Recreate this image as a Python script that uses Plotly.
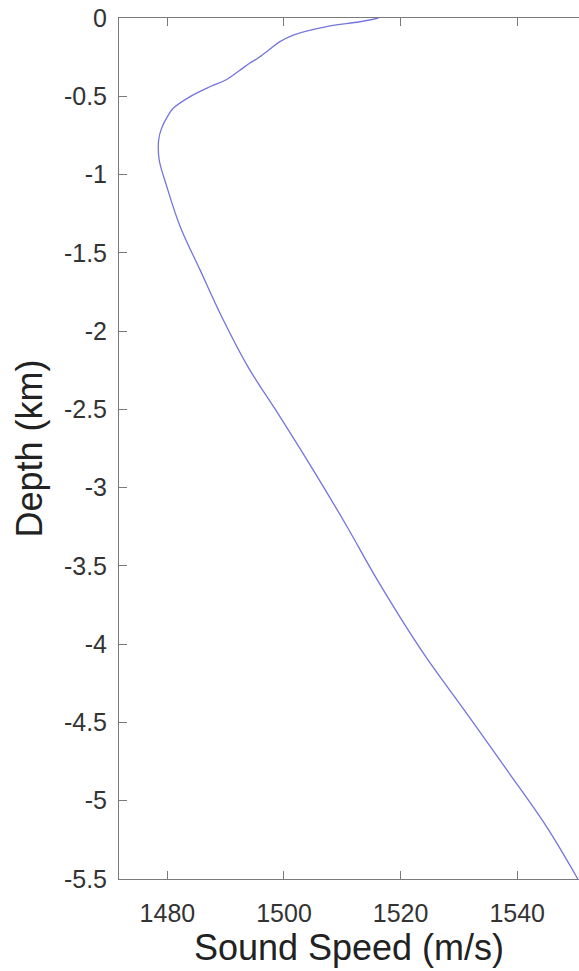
import plotly.graph_objects as go

depth_km = [0.000, -0.024, -0.055, -0.109, -0.151, -0.204, -0.257, -0.289, -0.340,
            -0.396, -0.439, -0.502, -0.577, -0.630, -0.705, -0.779, -0.907, -1.077,
            -1.333, -1.609, -1.907, -2.227, -2.546, -2.886, -3.248, -3.589, -4.057,
            -4.440, -4.802, -5.164, -5.500]
speed_ms = [1516.2, 1513.0, 1507.3, 1501.6, 1499.3, 1497.4, 1495.5, 1494.1, 1492.2,
            1490.0, 1487.3, 1483.9, 1481.0, 1480.0, 1479.0, 1478.5, 1478.6, 1479.9,
            1482.2, 1485.6, 1489.3, 1493.8, 1499.3, 1505.0, 1510.8, 1516.0, 1523.9,
            1531.3, 1538.2, 1545.0, 1550.4]

x_ticks = [1480, 1500, 1520, 1540]
x_ticktext = ["1480", "1500", "1520", "1540"]
y_ticks = [0, -0.5, -1, -1.5, -2, -2.5, -3, -3.5, -4, -4.5, -5, -5.5]
y_ticktext = ["0", "-0.5", "-1", "-1.5", "-2", "-2.5", "-3", "-3.5", "-4", "-4.5", "-5", "-5.5"]

FONT = "Liberation Sans, Arial, Helvetica, sans-serif"
TXT = "#333333"
AX = "#7a7a7a"

fig = go.Figure()
fig.add_trace(go.Scatter(
    x=speed_ms, y=depth_km, mode="lines",
    line=dict(color="#7474dc", width=1.3, shape="spline", smoothing=1.0),
    showlegend=False, hoverinfo="skip",
))

fig.update_layout(
    width=579, height=971,
    margin=dict(l=119, r=0, t=18, b=92),
    paper_bgcolor="white", plot_bgcolor="white",
    font=dict(family=FONT, color=TXT),
    xaxis=dict(
        range=[1471.7, 1550.6], tickvals=x_ticks, ticktext=x_ticktext,
        showgrid=False, zeroline=False,
        showline=True, linecolor=AX, linewidth=1, mirror="ticks",
        ticks="inside", ticklen=8, tickcolor=AX, tickwidth=1,
        tickfont=dict(size=25, color=TXT), ticklabelstandoff=12,
        title=dict(text="Sound Speed (m/s)", font=dict(size=36, color="#222222"), standoff=6),
    ),
    yaxis=dict(
        range=[-5.5, 0], tickvals=y_ticks, ticktext=y_ticktext,
        showgrid=False, zeroline=False,
        showline=True, linecolor=AX, linewidth=1, mirror=False,
        ticks="inside", ticklen=8, tickcolor=AX, tickwidth=1,
        tickfont=dict(size=25, color=TXT), ticklabelstandoff=6,
        title=dict(text="Depth (km)", font=dict(size=36, color="#222222"), standoff=10),
    ),
)

# remove the page's default body margin so the figure fills the window exactly
fig.write_html(
    "out.html",
    config={"displayModeBar": False},
    post_script=(
        "document.body.style.margin='0';"
        "document.body.style.overflow='hidden';"
        "document.documentElement.style.overflow='hidden';"
    ),
)
